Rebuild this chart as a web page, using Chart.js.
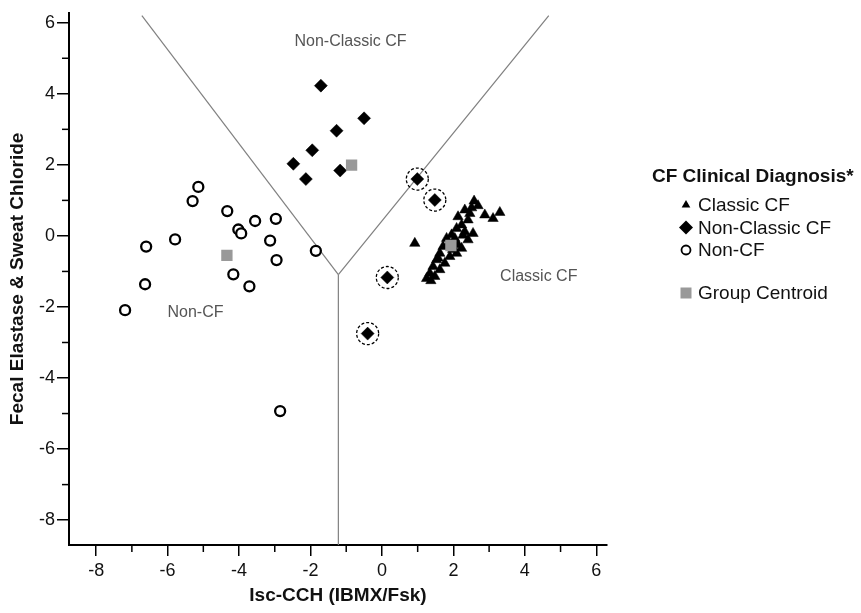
<!DOCTYPE html>
<html>
<head>
<meta charset="utf-8">
<title>CF Clinical Diagnosis - discriminant plot</title>
<script src="https://cdn.jsdelivr.net/npm/chart.js@4.4.1/dist/chart.umd.min.js"></script>
<style>
  html, body { margin: 0; padding: 0; background: #fff; }
  #wrap { width: 861px; height: 613px; position: relative; }
</style>
</head>
<body>
<div id="wrap"><canvas id="chart"></canvas></div>
<script>
const FONT = "'Liberation Sans', Arial, Helvetica, sans-serif";

// ticks
const xMajorTicks = [-8, -6, -4, -2, 0, 2, 4, 6];
const xMinorTicks = [-7, -5, -3, -1, 1, 3, 5];
const yMajorTicks = [-8, -6, -4, -2, 0, 2, 4, 6];
const yMinorTicks = [-7, -5, -3, -1, 1, 3, 5];

// Classic CF (triangles)
const classicX = [2.58, 2.69, 2.88, 3.11, 3.30, 2.46, 2.41, 2.55, 2.41, 2.23, 2.09, 1.95, 1.81, 2.23, 2.09, 1.71, 1.62,
  1.90, 1.53, 1.76, 1.43, 1.62, 1.34, 1.48, 1.25, 1.37, 2.32, 2.04, 0.92, 2.13, 1.85, 2.32, 2.13, 1.57, 1.98, 2.27, 2.51];
const classicY = [0.98, 0.85, 0.59, 0.49, 0.66, 0.63, 0.45, 0.07, -0.11, 0.31, 0.21, 0.03, -0.07, -0.35, -0.49, -0.30, -0.49,
  -0.58, -0.67, -0.77, -0.86, -0.95, -1.05, -1.14, -1.20, -1.26, 0.73, -0.07, -0.21, -0.25, -0.25, 0.12, 0.54, -0.62, -0.38, 0.02, 0.79];

// Non-Classic CF (diamonds)
const nonClassicX = [-1.71, -0.50, -1.27, -1.95, -2.48, -2.13, -1.17, 0.99, 1.48, 0.15, -0.40];
const nonClassicY = [4.23, 3.31, 2.96, 2.41, 2.03, 1.60, 1.84, 1.60, 1.01, -1.17, -2.75];
// diamonds drawn with a dashed ring
const ringedIdx = [7, 8, 9, 10];

// Non-CF (open circles)
const nonCfX = [-5.14, -5.30, -4.33, -3.55, -2.97, -4.02, -3.94, -3.13, -5.79, -6.60, -2.95, -1.85, -4.16, -3.71, -6.63, -7.19, -2.85];
const nonCfY = [1.38, 0.98, 0.70, 0.42, 0.48, 0.18, 0.07, -0.13, -0.10, -0.30, -0.68, -0.42, -1.08, -1.42, -1.36, -2.09, -4.93];

// group centroids: Non-CF, Classic CF, Non-Classic CF
const centroidX = [-4.34, 1.93, -0.85];
const centroidY = [-0.55, -0.27, 1.99];

// territorial map boundaries
const leftBoundX = [-6.72, -1.22];
const leftBoundY = [6.2, -1.09];
const rightBoundX = [-1.22, 4.67];
const rightBoundY = [-1.09, 6.2];
const lowBoundX = [-1.22, -1.22];
const lowBoundY = [-1.09, -8.7];

// region labels
const regionText = ['Non-Classic CF', 'Non-CF', 'Classic CF'];
const regionX = [-0.88, -5.22, 4.39];
const regionY = [5.46, -2.17, -1.14];

const legendTitle = 'CF Clinical Diagnosis*';
const legendLabels = ['Classic CF', 'Non-Classic CF', 'Non-CF', 'Group Centroid'];
const legendShapes = ['triangle', 'diamond', 'circle', 'square'];

function zip(xs, ys) {
  return xs.map((x, i) => ({ x: x, y: ys[i] }));
}

function lineSet(xs, ys) {
  return {
    data: zip(xs, ys),
    showLine: true,
    borderColor: '#808080',
    borderWidth: 1.2,
    pointRadius: 0,
    fill: false,
    order: 10
  };
}

const ringX = ringedIdx.map(i => nonClassicX[i]);
const ringY = ringedIdx.map(i => nonClassicY[i]);

function drawShape(ctx, shape, cx, cy) {
  ctx.beginPath();
  if (shape === 'triangle') {
    const r = 5;
    ctx.moveTo(cx, cy - r);
    ctx.lineTo(cx + r * 0.866, cy + r * 0.5);
    ctx.lineTo(cx - r * 0.866, cy + r * 0.5);
    ctx.closePath();
    ctx.fillStyle = '#000';
    ctx.fill();
  } else if (shape === 'diamond') {
    const r = 7;
    ctx.moveTo(cx, cy - r);
    ctx.lineTo(cx + r, cy);
    ctx.lineTo(cx, cy + r);
    ctx.lineTo(cx - r, cy);
    ctx.closePath();
    ctx.fillStyle = '#000';
    ctx.fill();
  } else if (shape === 'circle') {
    ctx.arc(cx, cy, 4.5, 0, Math.PI * 2);
    ctx.lineWidth = 1.8;
    ctx.strokeStyle = '#000';
    ctx.stroke();
  } else {
    ctx.rect(cx - 5.5, cy - 5.5, 11, 11);
    ctx.fillStyle = '#999';
    ctx.fill();
  }
}

const extrasPlugin = {
  id: 'extras',
  beforeDatasetDraw(chart, args) {
    if (chart.data.datasets[args.index].dashed) chart.ctx.setLineDash([3, 2]);
  },
  afterDatasetDraw(chart, args) {
    chart.ctx.setLineDash([]);
  },
  afterDraw(chart) {
    const { ctx, chartArea } = chart;
    const xs = chart.scales.x, ys = chart.scales.y;
    ctx.save();

    // minor ticks
    ctx.strokeStyle = '#000';
    ctx.lineWidth = 1.5;
    xMinorTicks.forEach(v => {
      const px = xs.getPixelForValue(v);
      ctx.beginPath();
      ctx.moveTo(px, chartArea.bottom);
      ctx.lineTo(px, chartArea.bottom + 7);
      ctx.stroke();
    });
    yMinorTicks.forEach(v => {
      const py = ys.getPixelForValue(v);
      ctx.beginPath();
      ctx.moveTo(chartArea.left, py);
      ctx.lineTo(chartArea.left - 7, py);
      ctx.stroke();
    });

    // region labels
    ctx.font = '16px ' + FONT;
    ctx.fillStyle = '#555';
    ctx.textAlign = 'center';
    ctx.textBaseline = 'middle';
    regionText.forEach((t, i) => {
      ctx.fillText(t, xs.getPixelForValue(regionX[i]), ys.getPixelForValue(regionY[i]));
    });

    // legend
    ctx.fillStyle = '#111';
    ctx.textAlign = 'left';
    ctx.font = 'bold 19px ' + FONT;
    ctx.fillText(legendTitle, 652, 177);
    const rows = [205, 227.5, 250, 293];
    ctx.font = '19px ' + FONT;
    legendLabels.forEach((label, i) => {
      drawShape(ctx, legendShapes[i], 686, rows[i]);
      ctx.fillStyle = '#111';
      ctx.fillText(label, 698, rows[i] + 1);
    });

    ctx.restore();
  }
};

function axisConfig(min, max, majors, titleText, tickLen, fitKey, fitSize) {
  return {
    type: 'linear',
    min: min,
    max: max,
    afterBuildTicks: scale => { scale.ticks = majors.map(v => ({ value: v })); },
    afterFit: scale => { scale[fitKey] = fitSize; },
    border: { display: true, color: '#000', width: 2 },
    grid: { drawOnChartArea: false, drawTicks: true, tickLength: tickLen, color: '#000', lineWidth: 1.5 },
    ticks: {
      autoSkip: false,
      maxRotation: 0,
      padding: fitKey === 'width' ? 2 : 4,
      color: '#111',
      font: { family: FONT, size: 18 }
    },
    title: {
      display: true,
      text: titleText,
      color: '#111',
      font: { family: FONT, size: 19, weight: 'bold' },
      padding: { top: 6, bottom: 6 }
    }
  };
}

new Chart(document.getElementById('chart'), {
  type: 'scatter',
  data: {
    datasets: [
      lineSet(leftBoundX, leftBoundY),
      lineSet(rightBoundX, rightBoundY),
      lineSet(lowBoundX, lowBoundY),
      {
        label: 'Classic CF',
        data: zip(classicX, classicY),
        pointStyle: 'triangle',
        pointRadius: 6,
        backgroundColor: '#000',
        borderColor: '#000',
        borderWidth: 0.5,
        order: 5
      },
      {
        label: 'Non-Classic CF',
        data: zip(nonClassicX, nonClassicY),
        pointStyle: 'rectRot',
        pointRadius: 6.5,
        backgroundColor: '#000',
        borderColor: '#000',
        borderWidth: 0.5,
        order: 5
      },
      {
        label: 'Non-CF',
        data: zip(nonCfX, nonCfY),
        pointStyle: 'circle',
        pointRadius: 5,
        backgroundColor: '#fff',
        borderColor: '#000',
        borderWidth: 2.3,
        order: 5
      },
      {
        label: 'misclassified',
        data: zip(ringX, ringY),
        dashed: true,
        pointStyle: 'circle',
        pointRadius: 11,
        backgroundColor: 'rgba(0,0,0,0)',
        borderColor: '#000',
        borderWidth: 1.3,
        order: 3
      },
      {
        label: 'Group Centroid',
        data: zip(centroidX, centroidY),
        pointStyle: 'rect',
        pointRadius: 8,
        backgroundColor: '#999',
        borderColor: '#999',
        borderWidth: 0,
        order: 1
      }
    ]
  },
  options: {
    responsive: true,
    maintainAspectRatio: false,
    animation: false,
    layout: { padding: { top: 10, right: 254, left: 0, bottom: 0 } },
    plugins: {
      legend: { display: false },
      tooltip: { enabled: false }
    },
    scales: {
      x: axisConfig(-8.76, 6.3, xMajorTicks, 'Isc-CCH (IBMX/Fsk)', 11, 'height', 68),
      y: axisConfig(-8.7, 6.28, yMajorTicks, 'Fecal Elastase & Sweat Chloride', 12, 'width', 69)
    }
  },
  plugins: [extrasPlugin]
});
</script>
</body>
</html>
